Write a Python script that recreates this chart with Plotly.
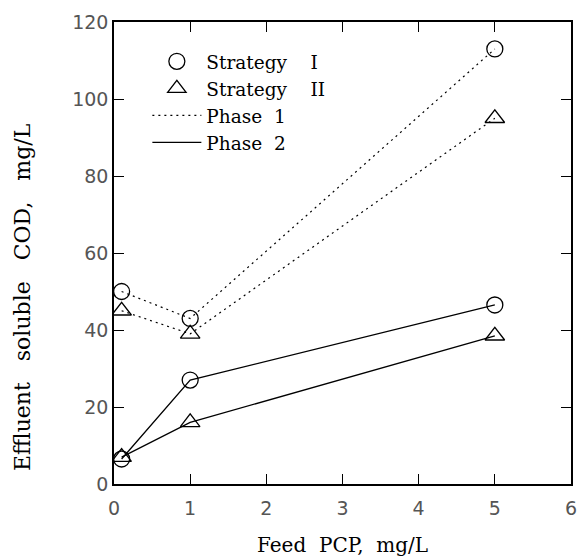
import plotly.graph_objects as go

feed_pcp = [0.1, 1.0, 5.0]
s1_phase1 = [50, 43, 113]
s2_phase1 = [45, 39, 95]
s1_phase2 = [6.5, 27, 46.5]
s2_phase2 = [7, 16, 38.5]

x_ticks = [0, 1, 2, 3, 4, 5, 6]
y_ticks = [0, 20, 40, 60, 80, 100, 120]

SERIF = "DejaVu Serif"
TICKFONT = dict(family="DejaVu Sans", size=19, color="#555")
NB = "\u00a0"

fig = go.Figure()

dot = dict(color="black", width=1.2, dash="2px,4px")
solid = dict(color="black", width=1.3)
circ = dict(symbol="circle-open", size=16, color="black", line=dict(width=1.3, color="black"))
tri = dict(symbol="triangle-up-open", size=17, color="black", line=dict(width=1.3, color="black"))

fig.add_trace(go.Scatter(x=feed_pcp, y=s1_phase1, mode="lines+markers", line=dot, marker=circ, showlegend=False))
fig.add_trace(go.Scatter(x=feed_pcp, y=s2_phase1, mode="lines+markers", line=dot, marker=tri, showlegend=False))
fig.add_trace(go.Scatter(x=feed_pcp, y=s1_phase2, mode="lines+markers", line=solid, marker=circ, showlegend=False))
fig.add_trace(go.Scatter(x=feed_pcp, y=s2_phase2, mode="lines+markers", line=solid, marker=tri, showlegend=False))

# legend entries
fig.add_trace(go.Scatter(x=[None], y=[None], mode="markers", marker=circ, name="Strategy" + NB * 4 + "I"))
fig.add_trace(go.Scatter(x=[None], y=[None], mode="markers", marker=tri, name="Strategy" + NB * 4 + "II"))
fig.add_trace(go.Scatter(x=[None], y=[None], mode="lines", line=dot, name="Phase" + NB * 2 + "1"))
fig.add_trace(go.Scatter(x=[None], y=[None], mode="lines", line=solid, name="Phase" + NB * 2 + "2"))

axis_common = dict(
    showline=True, linecolor="black", linewidth=1.5, mirror="allticks",
    ticks="inside", ticklen=10, tickwidth=1.2, tickcolor="black",
    showgrid=False, zeroline=False, tickfont=TICKFONT, ticklabeloverflow="allow",
)

fig.update_layout(
    width=578, height=557,
    margin=dict(l=114, r=1, t=22, b=73),
    paper_bgcolor="white", plot_bgcolor="white",
    xaxis=dict(range=[0, 6], tickvals=x_ticks, ticktext=[str(v) for v in x_ticks],
               ticklabelstandoff=6,
               title=dict(text="Feed" + NB * 2 + "PCP," + NB * 2 + "mg/L",
                          font=dict(family=SERIF, size=20, color="black"), standoff=22),
               **axis_common),
    yaxis=dict(range=[0, 120], tickvals=y_ticks, ticktext=[str(v) for v in y_ticks],
               ticklabelstandoff=0,
               **axis_common),
    legend=dict(x=0.073, y=0.955, xanchor="left", yanchor="top",
                bgcolor="rgba(0,0,0,0)", borderwidth=0, itemwidth=49,
                font=dict(family=SERIF, size=18.5, color="black"), tracegroupgap=0),
    showlegend=True,
    annotations=[dict(
        text="Effluent" + NB * 3 + "soluble" + NB * 3 + "COD," + NB * 3 + "mg/L",
        textangle=-90, xref="paper", yref="paper", x=-0.1987, y=0.405,
        xanchor="center", yanchor="middle", showarrow=False,
        font=dict(family=SERIF, size=22, color="black"),
    )],
)

fig.write_html("out.html", config={"displayModeBar": False},
               post_script="document.body.style.margin='0px';")
